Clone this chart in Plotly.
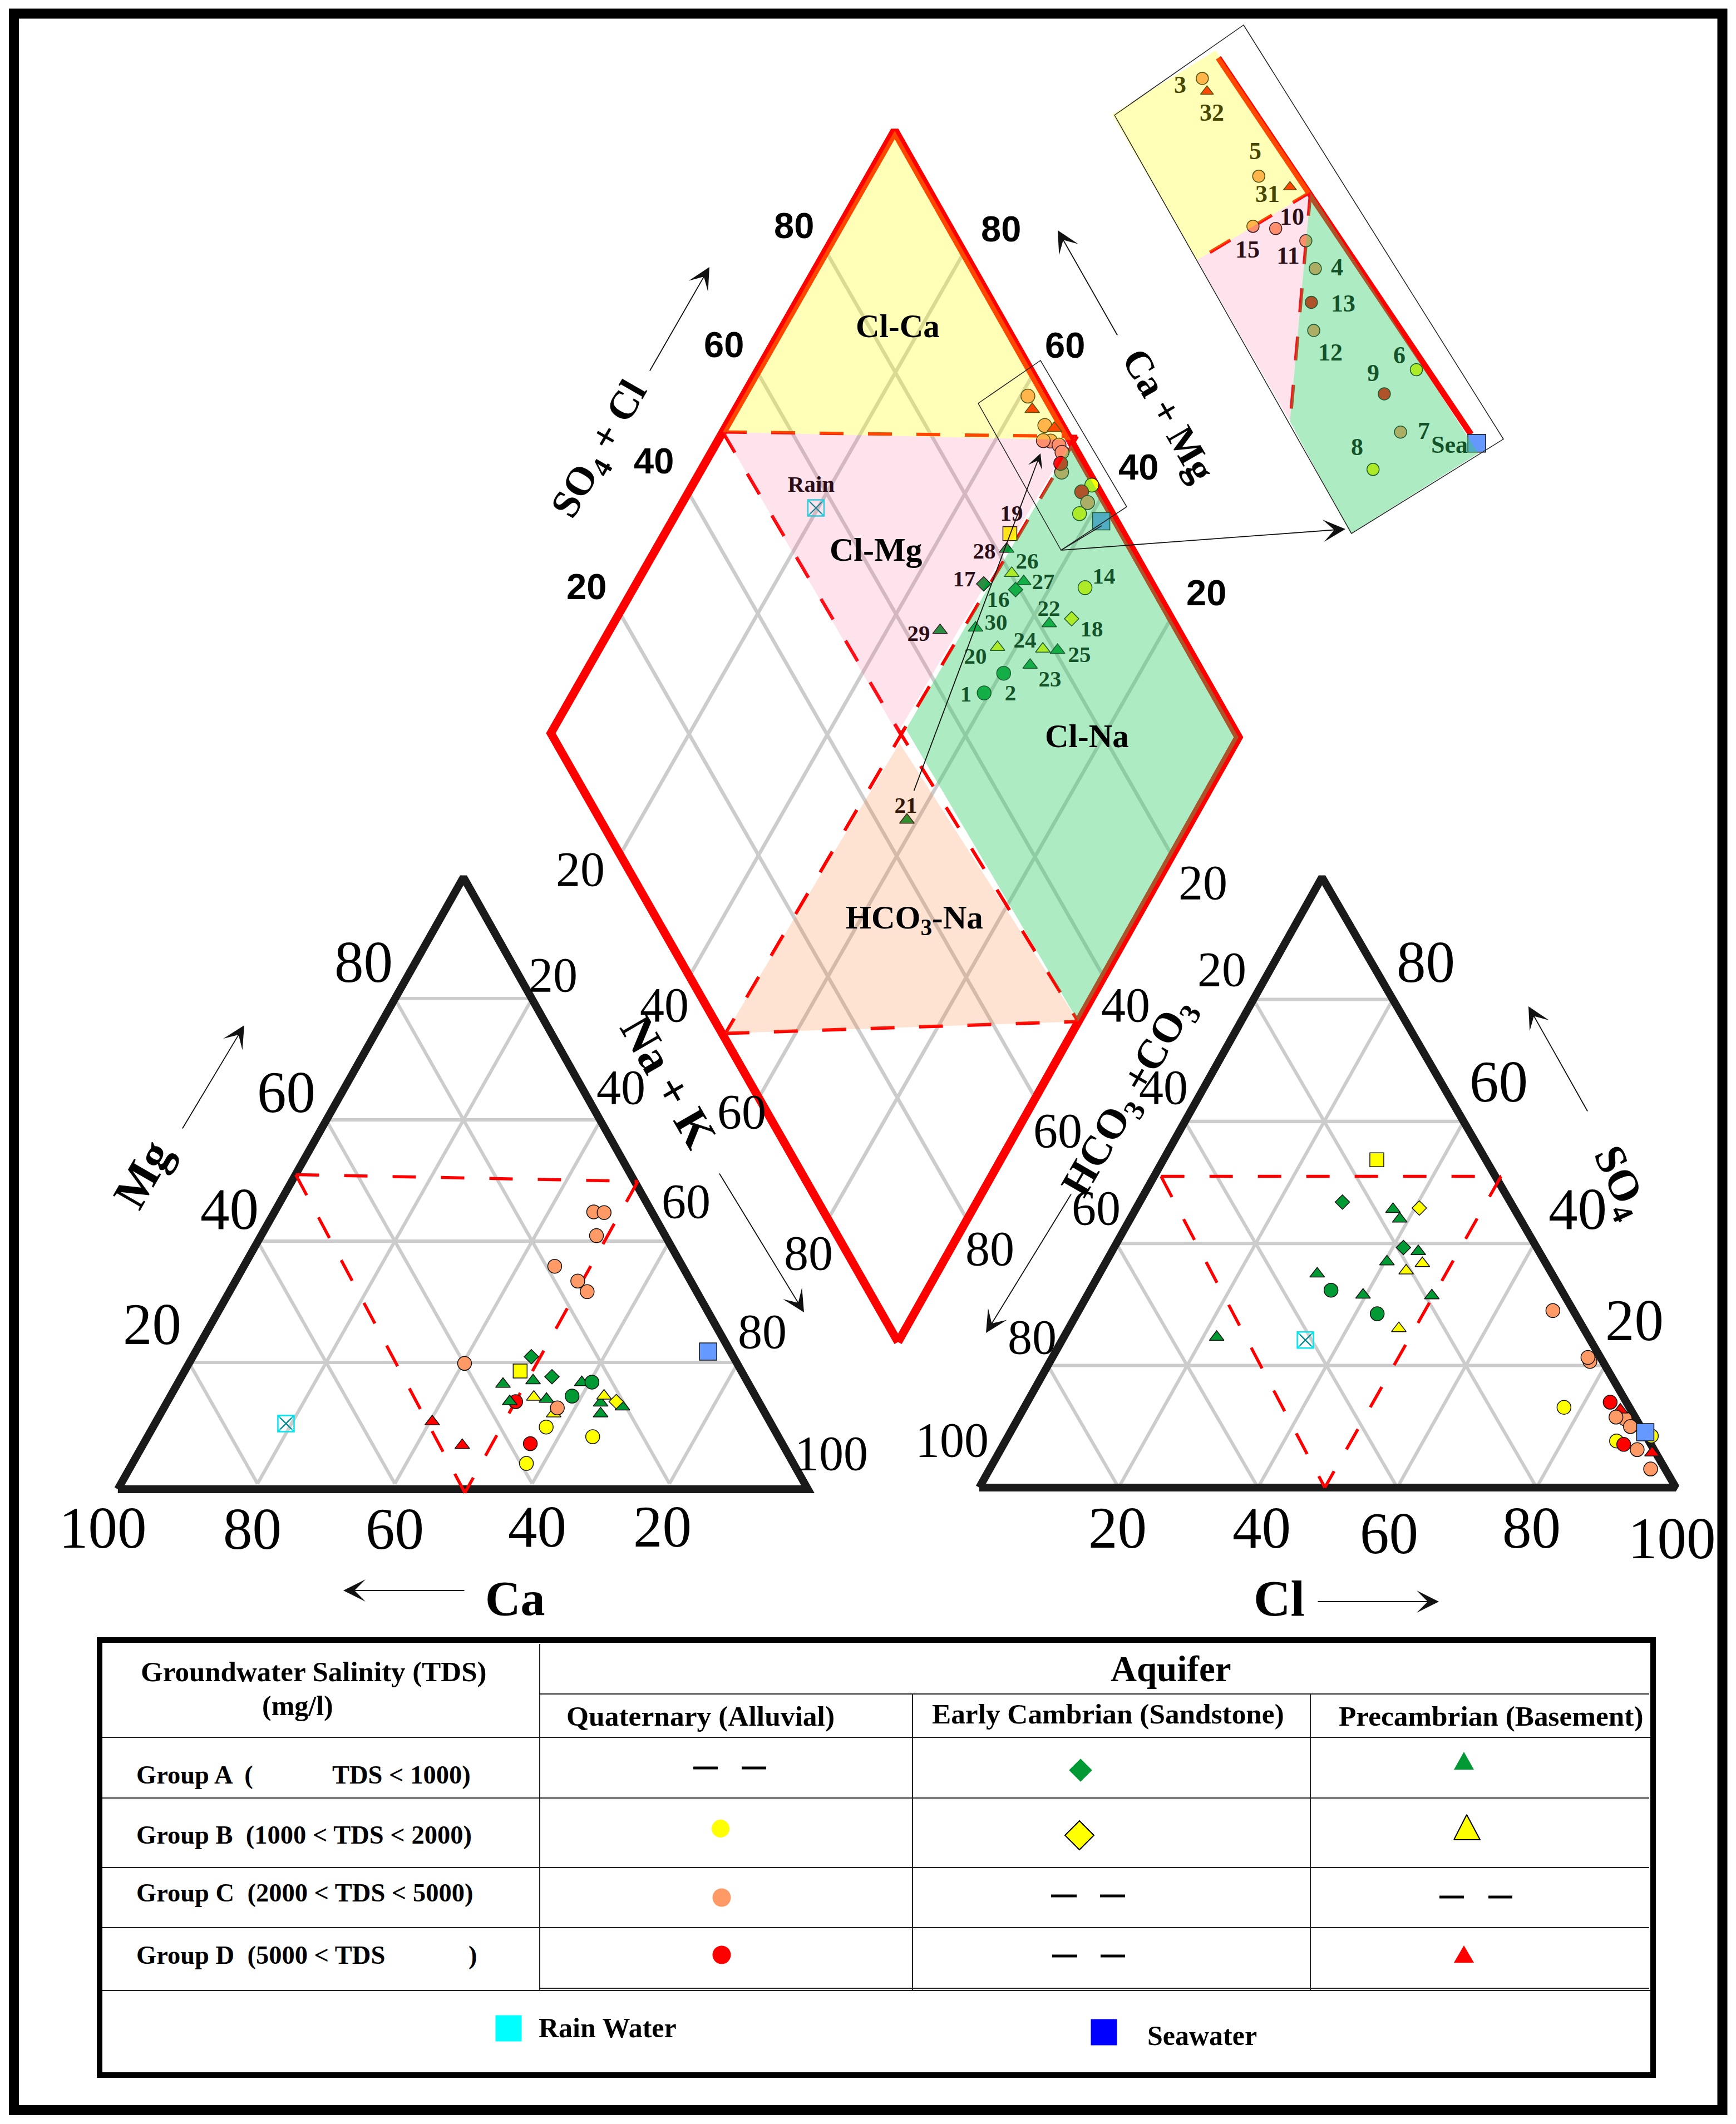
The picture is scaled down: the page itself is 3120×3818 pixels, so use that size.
import plotly.graph_objects as go

# ---------- cation triangle (percent) ----------
cat_ca = [8.39, 6.93, 9.92, 18.48, 16.34, 15.84, 39.49, 35.19, 36.49, 32.83, 26.87, 38.67, 29.25, 27.89, 35.6, 30.95,
          24.03, 36.04, 30.51, 22.95, 23.84, 20.1, 20.59, 32.18, 30.66, 21.89, 26.55, 22.52, 48.94, 46.5, 32.04, 29.65, 3.17]
cat_mg = [45.42, 45.31, 41.55, 36.55, 34.14, 32.41, 20.71, 14.47, 7.62, 10.33, 8.75, 4.39, 21.8, 18.53, 17.33, 17.9,
          17.6, 14.5, 14.88, 14.28, 12.51, 13.64, 14.47, 15.22, 12.51, 15.41, 15.37, 17.66, 11.2, 7.36, 19.47, 13.45, 22.63]
cat_kind = ["QC", "QC", "QC", "QC", "QC", "QC", "QC", "QD", "QD", "QB", "QB", "QB", "CA", "CA", "PA", "PA",
            "PA", "PA", "PA", "PA", "PA", "PA", "CB", "PB", "PB", "PB", "QA", "QA", "PD", "PD", "SQ", "QC", "SEA"]
cat_rain = [70.32, 10.9]

# ---------- anion triangle (percent) ----------
an_cl = [30.64, 29.11, 41.53, 40.63, 36.95, 38.7, 43.98, 40.31, 31.27, 39.56, 49.49, 21.95, 43.8, 45.53, 47.39, 34.58, 43.11,
         68.07, 77.49, 76.88, 87.15, 85.76, 85.71, 88.55, 83.68, 77.47, 87.72, 92.31, 89.02, 91.38, 93.77, 94.87, 91.14]
an_so4 = [53.71, 46.79, 39.34, 45.81, 45.61, 44.02, 38.69, 37.02, 35.03, 31.57, 31.45, 24.65, 35.52, 36.74, 26.08, 32.34, 28.48,
          29.0, 20.67, 21.32, 11.27, 12.73, 11.55, 10.0, 13.99, 13.14, 7.64, 8.46, 7.08, 6.22, 5.69, 3.05, 9.07]
an_kind = ["SQ", "CA", "CA", "CB", "PA", "PA", "PA", "PA", "PA", "PA", "PA", "PA", "PB", "PB", "PB", "QA", "QA",
           "QC", "QC", "QC", "QC", "PD", "QC", "QC", "QD", "QB", "QB", "QB", "QD", "QC", "PD", "QC", "SEA"]
an_rain = [34.92, 24.17]

# ---------- diamond (SO4+Cl, Ca+Mg percent) ----------
dia_a = [97.28, 96.8, 97.29, 98.45, 96.85, 95.81, 97.72, 97.56, 95.85, 96.45, 99.16, 97.12, 97.1, 95.0, 97.51, 83.22, 81.48,
         80.21, 81.26, 75.25, 79.4, 89.65, 85.12, 81.46, 70.41, 65.05, 71.99, 78.43, 80.46, 75.24, 70.72, 66.25, 44.48]
dia_b = [58.94, 57.23, 54.09, 52.49, 51.95, 53.06, 50.42, 49.4, 47.82, 48.67, 42.4, 43.31, 41.57, 41.82, 38.06, 50.22, 49.41,
         46.69, 44.29, 49.87, 44.79, 34.93, 34.31, 37.13, 47.41, 52.33, 42.65, 35.97, 33.75, 36.48, 39.62, 40.82, 41.5]
dia_kind = ["QC", "PD", "QC", "PD", "QC", "QC", "QC", "QC", "QC", "QD", "QB", "QD", "QC", "QB", "SEA", "SQ", "PA",
            "PB", "PA", "CA", "CA", "QB", "CB", "PA", "PA", "PA", "PB", "PB", "PA", "PA", "QA", "QA", "PA"]
dia_rain = [57.21, 80.31]
dia_labels = ["19", "28", "26", "27", "17", "16", "14", "22", "18", "30", "29", "24", "25", "20", "23", "1", "2", "21", "Rain"]
dia_label_x = [1818, 1769, 1846, 1875, 1733, 1794, 1984, 1885, 1962, 1790, 1651, 1842, 1940, 1753, 1887, 1736, 1816, 1628, 1458]
dia_label_y = [926, 994, 1012, 1049, 1044, 1081, 1039, 1097, 1134, 1122, 1142, 1154, 1180, 1183, 1224, 1251, 1249, 1451, 874]

# ---------- inset (percent across / along the enlarged box) ----------
ins_u = [60.3, 58.8, 60.9, 74.8, 41.9, 53.8, 66.7, 63.2, 50.4, 42.9, 87.5, 62.1, 59.1, 32.1, 97.9]
ins_v = [4.2, 7.0, 27.7, 33.3, 35.6, 38.7, 44.4, 50.3, 55.6, 60.7, 79.7, 80.0, 88.5, 91.6, 99.5]
ins_kind = ["QC", "PD", "QC", "PD", "QC", "QC", "QC", "QC", "QD", "QC", "QB", "QD", "QC", "QB", "SEA"]
ins_labels = ["3", "32", "5", "31", "10", "15", "11", "4", "13", "12", "6", "9", "7", "8", "Sea"]
ins_label_x = [2121, 2178, 2256, 2278, 2322, 2242, 2315, 2403, 2414, 2391, 2515, 2468, 2559, 2439, 2605]
ins_label_y = [156, 206, 275, 352, 393, 452, 463, 484, 549, 637, 642, 674, 778, 807, 803]

ticks = [20, 40, 60, 80]
SERIF = "Liberation Serif"
SANS = "Liberation Sans"
GREY = "#cccccc"
RED = "#ff0000"
INK = "#1a1a1a"

STYLE = {
    "QA": ("circle", "#009933"), "QB": ("circle", "#ffff00"), "QC": ("circle", "#ff9966"), "QD": ("circle", "#ff0000"),
    "CA": ("diamond", "#009933"), "CB": ("diamond", "#ffff00"),
    "PA": ("triangle-up", "#009933"), "PB": ("triangle-up", "#ffff00"), "PD": ("triangle-up", "#ff0000"),
    "SQ": ("square", "#ffff00"), "SEA": ("square", "#6699ff"),
}
SIZE = {"circle": 25, "diamond": 20, "triangle-up": 23, "square": 25}


def cat_xy(ca, mg):
    return 1452 - 12.38 * ca - 6.19 * mg, 2679 - 11.02 * mg


def cat_grid_xy(ca, mg):
    return 1450 - 12.34 * ca - 6.17 * mg, 2667 - 10.9 * mg


def an_xy(cl, so4):
    return 1760 + 12.52 * cl + 6.16 * so4, 2674 - 10.97 * so4


def dia_xy(a, b):
    return 1614 + 6.18 * a - 6.24 * b, 2408 - 10.83 * a - 10.90 * b


def ins_xy(u, v):
    return 2003 + 2.32 * u + 4.26 * v, 207 - 1.62 * u + 7.52 * v


def page(x, y):
    return x, y


fig = go.Figure()


def path(fn, pts, width, color, dash=None):
    xs, ys = [], []
    for p in pts:
        if p is None:
            xs.append(None)
            ys.append(None)
        else:
            x, y = fn(*p)
            xs.append(x)
            ys.append(y)
    fig.add_trace(go.Scatter(x=xs, y=ys, mode="lines", hoverinfo="skip", showlegend=False,
                             line=dict(color=color, width=width, dash=dash)))


def zone(fn, pts, color, lw=0):
    xy = [fn(*p) for p in pts]
    fig.add_trace(go.Scatter(x=[q[0] for q in xy], y=[q[1] for q in xy], mode="lines", fill="toself",
                             fillcolor=color, line=dict(width=lw, color="#000000"), hoverinfo="skip", showlegend=False))


def marks(fn, p, q, kinds, scale=1.0, big_sea=31):
    xy = [fn(a, b) for a, b in zip(p, q)]
    syms = [STYLE[k][0] for k in kinds]
    cols = [STYLE[k][1] for k in kinds]
    sizes = [big_sea if k == "SEA" else SIZE[STYLE[k][0]] * scale for k in kinds]
    fig.add_trace(go.Scatter(x=[c[0] for c in xy], y=[c[1] for c in xy], mode="markers", showlegend=False,
                             marker=dict(symbol=syms, color=cols, size=sizes, opacity=1,
                                         line=dict(color="#111111", width=1.5))))


def rain(fn, p):
    x, y = fn(*p)
    fig.add_trace(go.Scatter(x=[x], y=[y], mode="markers", showlegend=False,
                             marker=dict(symbol="square-x-open", size=29, color="#00e5ee", line=dict(color="#00e5ee", width=2.5))))
    fig.add_trace(go.Scatter(x=[x], y=[y], mode="markers", showlegend=False,
                             marker=dict(symbol="x-thin-open", size=20, color="#1a6a70", line=dict(color="#1a6a70", width=1.5))))


# ---------- triangle grids ----------
seg = []
for t in ticks:
    seg += [(0, t), (100 - t, t), None, (t, 0), (t, 100 - t), None, (t, 0), (0, t), None]
path(cat_grid_xy, seg, 6, GREY)
path(an_xy, seg, 6, GREY)
path(cat_grid_xy, [(100.8, -0.92), (0.3, -0.92), (0, 100), (100.8, -0.92)], 14, INK)
path(an_xy, [(0, 0), (100, 0), (0, 100), (0, 0)], 14, INK)
tdash = "42px,45px"
path(cat_xy, [(48.6, 51.5), (-0.5, 50.4)], 5.5, RED, tdash)
path(cat_xy, [(-0.5, 50.4), (50, -0.4)], 5.5, RED, tdash)
path(cat_xy, [(48.6, 51.5), (50, -0.4)], 5.5, RED, tdash)
path(an_xy, [(1, 51), (49.8, 51)], 5.5, RED, tdash)
path(an_xy, [(49.8, 51), (49.6, 0)], 5.5, RED, tdash)
path(an_xy, [(1, 51), (49.6, 0)], 5.5, RED, tdash)
marks(cat_xy, cat_ca, cat_mg, cat_kind)
marks(an_xy, an_cl, an_so4, an_kind)
rain(cat_xy, cat_rain)
rain(an_xy, an_rain)

# ---------- diamond: everything below the translucent zones ----------
seg = []
for t in ticks:
    seg += [(t, 0), (t, 100), None, (0, t), (100, t), None]
path(dia_xy, seg, 6.5, GREY)
path(dia_xy, [(-0.2, -0.2), (99.5, 0.48), (100, 100), (0, 100), (-0.2, -0.2)], 15, RED)
dash = "43px,44px"
path(dia_xy, [(50, 100), (101.1, 48.5)], 6, RED, dash)
path(dia_xy, [(50, 100), (50.7, 49.4)], 6, RED, dash)
path(dia_xy, [(101.1, 48.5), (50.7, 49.4)], 6, RED, dash)
path(dia_xy, [(52.1, 49.35), (0.4, 50.1)], 6, RED, dash)
path(dia_xy, [(50.7, 51), (52.6, 0.2)], 6, RED, dash)
path(dia_xy, [(0.4, 50.1), (52.6, 0.2)], 6, RED, dash)
marks(dia_xy, dia_a, dia_b, dia_kind)
rain(dia_xy, dia_rain)
fig.add_trace(go.Scatter(x=dia_label_x, y=dia_label_y, text=dia_labels, mode="text", showlegend=False, hoverinfo="skip",
                         textfont=dict(family=SERIF, size=41, color="#000000", weight="bold")))

# ---------- inset below its zones ----------
path(ins_xy, [(75.7, 2.6), (97.5, 97.3)], 11, RED)
path(ins_xy, [(9.8, 34.9), (84.7, 36.6)], 6, RED, dash)
path(ins_xy, [(84.7, 36.6), (4.3, 72.1)], 6, RED, dash)
marks(ins_xy, ins_u, ins_v, ins_kind, 0.88, 32)
fig.add_trace(go.Scatter(x=ins_label_x, y=ins_label_y, text=ins_labels, mode="text", showlegend=False, hoverinfo="skip",
                         textfont=dict(family=SERIF, size=44, color="#000000", weight="bold")))

# ---------- translucent zones ----------
YEL, PNK, GRN, ORG = "rgba(255,255,0,0.28)", "rgba(250,90,140,0.17)", "rgba(51,204,102,0.40)", "rgba(250,110,30,0.20)"
zone(dia_xy, [(100, 100), (50, 100), (99.9, 49.1)], YEL)
zone(dia_xy, [(50, 100), (99.9, 49.1), (50.3, 50)], PNK)
zone(dia_xy, [(51.9, 49.1), (99.5, 48.7), (99.5, 0.48), (52.6, 0.2)], GRN)
zone(dia_xy, [(49.8, 48.9), (0.4, 50.1), (52.6, 0.2)], ORG)
zone(ins_xy, [(76.5, 1), (-1.2, -0.4), (0.3, 34.7), (84.7, 36.6)], YEL)
zone(ins_xy, [(0.3, 34.7), (84.7, 36.6), (1.1, 73.4)], PNK)
zone(ins_xy, [(84.7, 36.6), (95.6, 101.4), (-0.6, 99.9), (1.1, 73.4)], GRN)

# ---------- thin box outlines ----------
path(ins_xy, [(0, 0), (100, 0), (114, 102), (0, 100), (0, 0)], 1.5, "#222222")
path(page, [(1758, 725), (1870, 648), (2025, 911), (1907, 989), (1758, 725), None, (1907, 989), (1980, 945)], 1.5, "#222222")

anns = []


def txt(s, x, y, size, family=SERIF, bold=False, angle=0, anchor="center"):
    anns.append(dict(text=f"<b>{s}</b>" if bold else s, x=x, y=y, xref="x", yref="y", showarrow=False, textangle=angle,
                     xanchor=anchor, yanchor="middle", font=dict(family=family, size=size, color="#000000")))


def arrow(x0, y0, x1, y1, size=3.7):
    anns.append(dict(text="", x=x1, y=y1, ax=x0, ay=y0, xref="x", yref="y", axref="x", ayref="y", showarrow=True,
                     arrowhead=3, arrowsize=size, arrowwidth=1.8, arrowcolor="#111111", standoff=0))


# diamond ticks
for s, x, y in [("80", 1427, 405), ("60", 1301, 619), ("40", 1175, 828), ("20", 1054, 1054),
                ("80", 1799, 411), ("60", 1914, 620), ("40", 2046, 839), ("20", 2168, 1065)]:
    txt(s, x, y, 65, SANS, True)
for s, x, y in [("20", 1043, 1562), ("40", 1194, 1806), ("60", 1333, 1998), ("80", 1453, 2252),
                ("20", 2162, 1586), ("40", 2023, 1806), ("60", 1901, 2032), ("80", 1779, 2244)]:
    txt(s, x, y, 88)
# cation ticks
for s, x, y in [("80", 653, 1729), ("60", 514, 1963), ("40", 412, 2173), ("20", 273, 2380),
                ("100", 185, 2746), ("80", 453, 2748), ("60", 709, 2748), ("40", 965, 2744), ("20", 1190, 2744)]:
    txt(s, x, y, 105)
for s, x, y in [("20", 994, 1752), ("40", 1116, 1954), ("60", 1233, 2159), ("80", 1370, 2393), ("100", 1494, 2612)]:
    txt(s, x, y, 88)
# anion ticks
for s, x, y in [("20", 2196, 1742), ("40", 2091, 1954), ("60", 1970, 2171), ("80", 1855, 2403), ("100", 1711, 2588)]:
    txt(s, x, y, 88)
for s, x, y in [("80", 2562, 1729), ("60", 2693, 1944), ("40", 2835, 2173), ("20", 2937, 2373),
                ("20", 2008, 2746), ("40", 2267, 2746), ("60", 2496, 2756), ("80", 2752, 2746), ("100", 3005, 2765)]:
    txt(s, x, y, 105)
# axis titles
txt("SO<sub>4</sub> + Cl", 1080, 809, 72, SERIF, True, -60)
txt("Ca + Mg", 2101, 746, 70, SERIF, True, 60)
txt("Mg", 256, 2111, 85, SERIF, True, -60)
txt("Ca", 926, 2873, 88, SERIF, True)
txt("Na + K", 1202, 1944, 84, SERIF, True, 60)
txt("HCO<sub>3</sub> +CO<sub>3</sub>", 2030, 1974, 75, SERIF, True, -60)
txt("SO<sub>4</sub>", 2910, 2125, 78, SERIF, True, 65)
txt("Cl", 2299, 2873, 92, SERIF, True)
# zone names
txt("Cl-Ca", 1613, 586, 59, SERIF, True)
txt("Cl-Mg", 1574, 988, 60, SERIF, True)
txt("Cl-Na", 1953, 1323, 59, SERIF, True)
txt("HCO<sub>3</sub>-Na", 1643, 1653, 59, SERIF, True)
# arrows
arrow(1167, 668, 1275, 480)
arrow(2009, 604, 1901, 414)
arrow(327, 2030, 439, 1843)
arrow(1292, 2108, 1445, 2359)
arrow(1926, 2145, 1772, 2396)
arrow(2854, 1999, 2747, 1809)
arrow(836, 2859, 617, 2859)
arrow(2367, 2879, 2586, 2879)
arrow(1907, 989, 2418, 951)
arrow(1642, 1423, 1870, 815, 2.5)

# ---------- legend table ----------
rows = [(179, 3123, 2971), (179, 3578, 2971), (970, 3045, 2964), (970, 3232, 2964), (179, 3232, 970), (179, 3357, 2964),
        (179, 3465, 2964), (970, 3574, 2964)]
seg = []
for x0, y, x1 in rows:
    seg += [(x0, y), (x1, y), None]
seg += [(970, 2955), (970, 3578), None, (1640, 3045), (1640, 3578), None, (2355, 3045), (2355, 3578), None,
        (1640, 3045), (2355, 3045), None]
path(page, seg, 2, "#222222")
seg = []
for x0, x1, y in [(1246, 1290, 3178), (1333, 1377, 3178), (1889, 1935, 3408), (1977, 2022, 3408), (2587, 2631, 3410),
                  (2675, 2718, 3410), (1891, 1936, 3516), (1978, 2022, 3516)]:
    seg += [(x0, y), (x1, y), None]
path(page, seg, 5, "#000000")

for sym, col, size, x, y, lw in [("diamond", "#009933", 32, 1942, 3182, 0),
                                 ("circle", "#ffff00", 32, 1295, 3287, 0), ("diamond", "#ffff00", 40, 1940, 3299, 2),
                                 ("circle", "#ff9966", 33, 1297, 3411, 0),
                                 ("circle", "#ff0000", 33, 1297, 3514, 0),
                                 ("square", "#00ffff", 47, 914, 3646, 0), ("square", "#0000ff", 47, 1984, 3653, 0)]:
    fig.add_trace(go.Scatter(x=[x], y=[y], mode="markers", showlegend=False, hoverinfo="skip",
                             marker=dict(symbol=sym, color=col, size=size, line=dict(color="#000000", width=lw))))
zone(page, [(2613, 3181), (2649, 3181), (2631, 3149), (2613, 3181)], "#009933")
zone(page, [(2613, 3307), (2660, 3307), (2636, 3262), (2613, 3307)], "#ffff00", 2)
zone(page, [(2613, 3528), (2649, 3528), (2631, 3497), (2613, 3528)], "#ff0000")

txt("Groundwater Salinity (TDS)", 564, 3005, 51, SERIF, True)
txt("(mg/l)", 535, 3066, 50, SERIF, True)
txt("Aquifer", 2104, 3000, 65, SERIF, True)
txt("Quaternary (Alluvial)", 1259, 3084, 51.5, SERIF, True)
txt("Early Cambrian (Sandstone)", 1991, 3080, 51.3, SERIF, True)
txt("Precambrian (Basement)", 2680, 3084, 51.3, SERIF, True)
txt("Group A  (", 243, 3190, 46.5, SERIF, True, anchor="left")
txt("TDS &lt; 1000)", 595, 3190, 46.5, SERIF, True, anchor="left")
txt("Group B\u00a0\u00a0(1000 &lt; TDS &lt; 2000)", 243, 3298, 46.5, SERIF, True, anchor="left")
txt("Group C\u00a0\u00a0(2000 &lt; TDS &lt; 5000)", 243, 3402, 46.5, SERIF, True, anchor="left")
txt("Group D\u00a0\u00a0(5000 &lt; TDS", 243, 3514, 46.5, SERIF, True, anchor="left")
txt(")", 850, 3514, 46.5, SERIF, True)
txt("Rain Water", 966, 3645, 50, SERIF, True, anchor="left")
txt("Seawater", 2060, 3659, 50, SERIF, True, anchor="left")

fig.update_layout(
    width=3120, height=3818, margin=dict(l=0, r=0, t=0, b=0), showlegend=False,
    plot_bgcolor="white", paper_bgcolor="white", annotations=anns,
    xaxis=dict(range=[0, 3120], visible=False, fixedrange=True),
    yaxis=dict(range=[3818, 0], visible=False, fixedrange=True),
    shapes=[
        dict(type="rect", xref="x", yref="y", x0=25, y0=24.5, x1=3095.5, y1=3793, line=dict(color="#000000", width=18)),
        dict(type="rect", xref="x", yref="y", x0=179, y0=2948, x1=2971, y1=3730, line=dict(color="#000000", width=10)),
    ],
)
fig.write_html("out.html", config={"displayModeBar": False},
               post_script="document.body.style.margin='0';document.body.style.overflow='hidden';")
